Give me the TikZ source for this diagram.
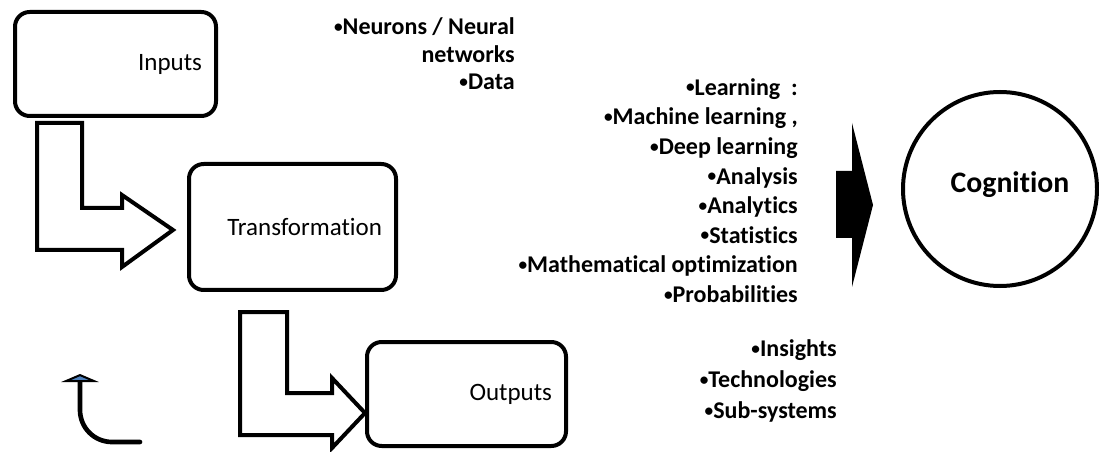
\documentclass[tikz,border=0pt]{standalone}
\usepackage{fontspec}
\setmainfont{Carlito}[Ligatures={NoCommon}]
\usepackage{graphicx}
\usepackage{tikz}
\usetikzlibrary{positioning,arrows.meta}
\definecolor{hookcolor}{RGB}{79, 129, 189}
\newcommand{\bul}{\raisebox{0.1em}{\scalebox{0.72}{•}}}
\tikzset{
    stage/.style={rectangle, rounded corners=11pt, draw, line width=3pt, align=right, inner xsep=10.5pt, font=\fontsize{18.75}{22}\selectfont},
    bullets/.style={align=right, anchor=east, inner sep=0pt, font=\bfseries\fontsize{18}{22.2}\selectfont},
    block arrow/.style={draw, line width=3pt, line join=miter, fill=white},
    solid arrow/.style={fill=black},
    goal/.style={circle, draw, line width=3pt, minimum size=145.5pt},
    hook arrow/.style={line width=3.5pt, line cap=round, -{Triangle[width=28pt, length=6pt, line width=2pt, fill=hookcolor]}}
}

\begin{document}
\begin{tikzpicture}[x=0.75pt, y=-0.75pt]
\useasboundingbox (0,0) rectangle (1099,452);

\node[stage, text width=129.75pt, minimum height=78pt] (inputs) at (115.5,64) {Inputs};
\node[stage, text width=134.25pt, minimum height=94.5pt] (transform) at (292.5,227) {Transformation};
\node[stage, text width=128.25pt, minimum height=78pt] (outputs) at (466.5,394) {Outputs};
\node[goal, label={[font=\bfseries\fontsize{22.3}{26}\selectfont, xshift=7.5pt, yshift=3pt]center:Cognition}] (cognition) at (1000,189) {};

\node[bullets, font=\bfseries\fontsize{18}{20.6}\selectfont] (resources) at (515,54) {\bul Neurons / Neural\\networks\\\bul Data};
\node[bullets] (methods) at (798,190.5) {\bul Learning\ \ :\\\bul Machine learning ,\\\bul Deep learning\\\bul Analysis\\\bul Analytics\\\bul Statistics\\\bul Mathematical optimization\\\bul Probabilities};
\node[bullets, font=\bfseries\fontsize{18}{23.25}\selectfont] (results) at (837,381) {\bul Insights\\\bul Technologies\\\bul Sub-systems};

% bent block arrows
\draw[block arrow] (37,123) -- (82,123) -- (82,208) -- (122,208) -- (122,195) -- (173,230) -- (122,267) -- (122,250) -- (37,250) -- cycle;
\draw[block arrow] (240,312) -- (287,312) -- (287,393) -- (332,393) -- (332,378) -- (365,413) -- (332,448) -- (332,435) -- (240,435) -- cycle;

% arrow towards cognition
\fill[solid arrow] (836,171) -- (852,171) -- (852,123) -- (873,205) -- (852,287) -- (852,238) -- (836,238) -- cycle;

\coordinate (hookstart) at (140,442);
\coordinate (hookend) at (80,374);
\draw[hook arrow] (hookstart) -- (112,442) to[out=180, in=-90] (80,410) -- (hookend);
\end{tikzpicture}
\end{document}
